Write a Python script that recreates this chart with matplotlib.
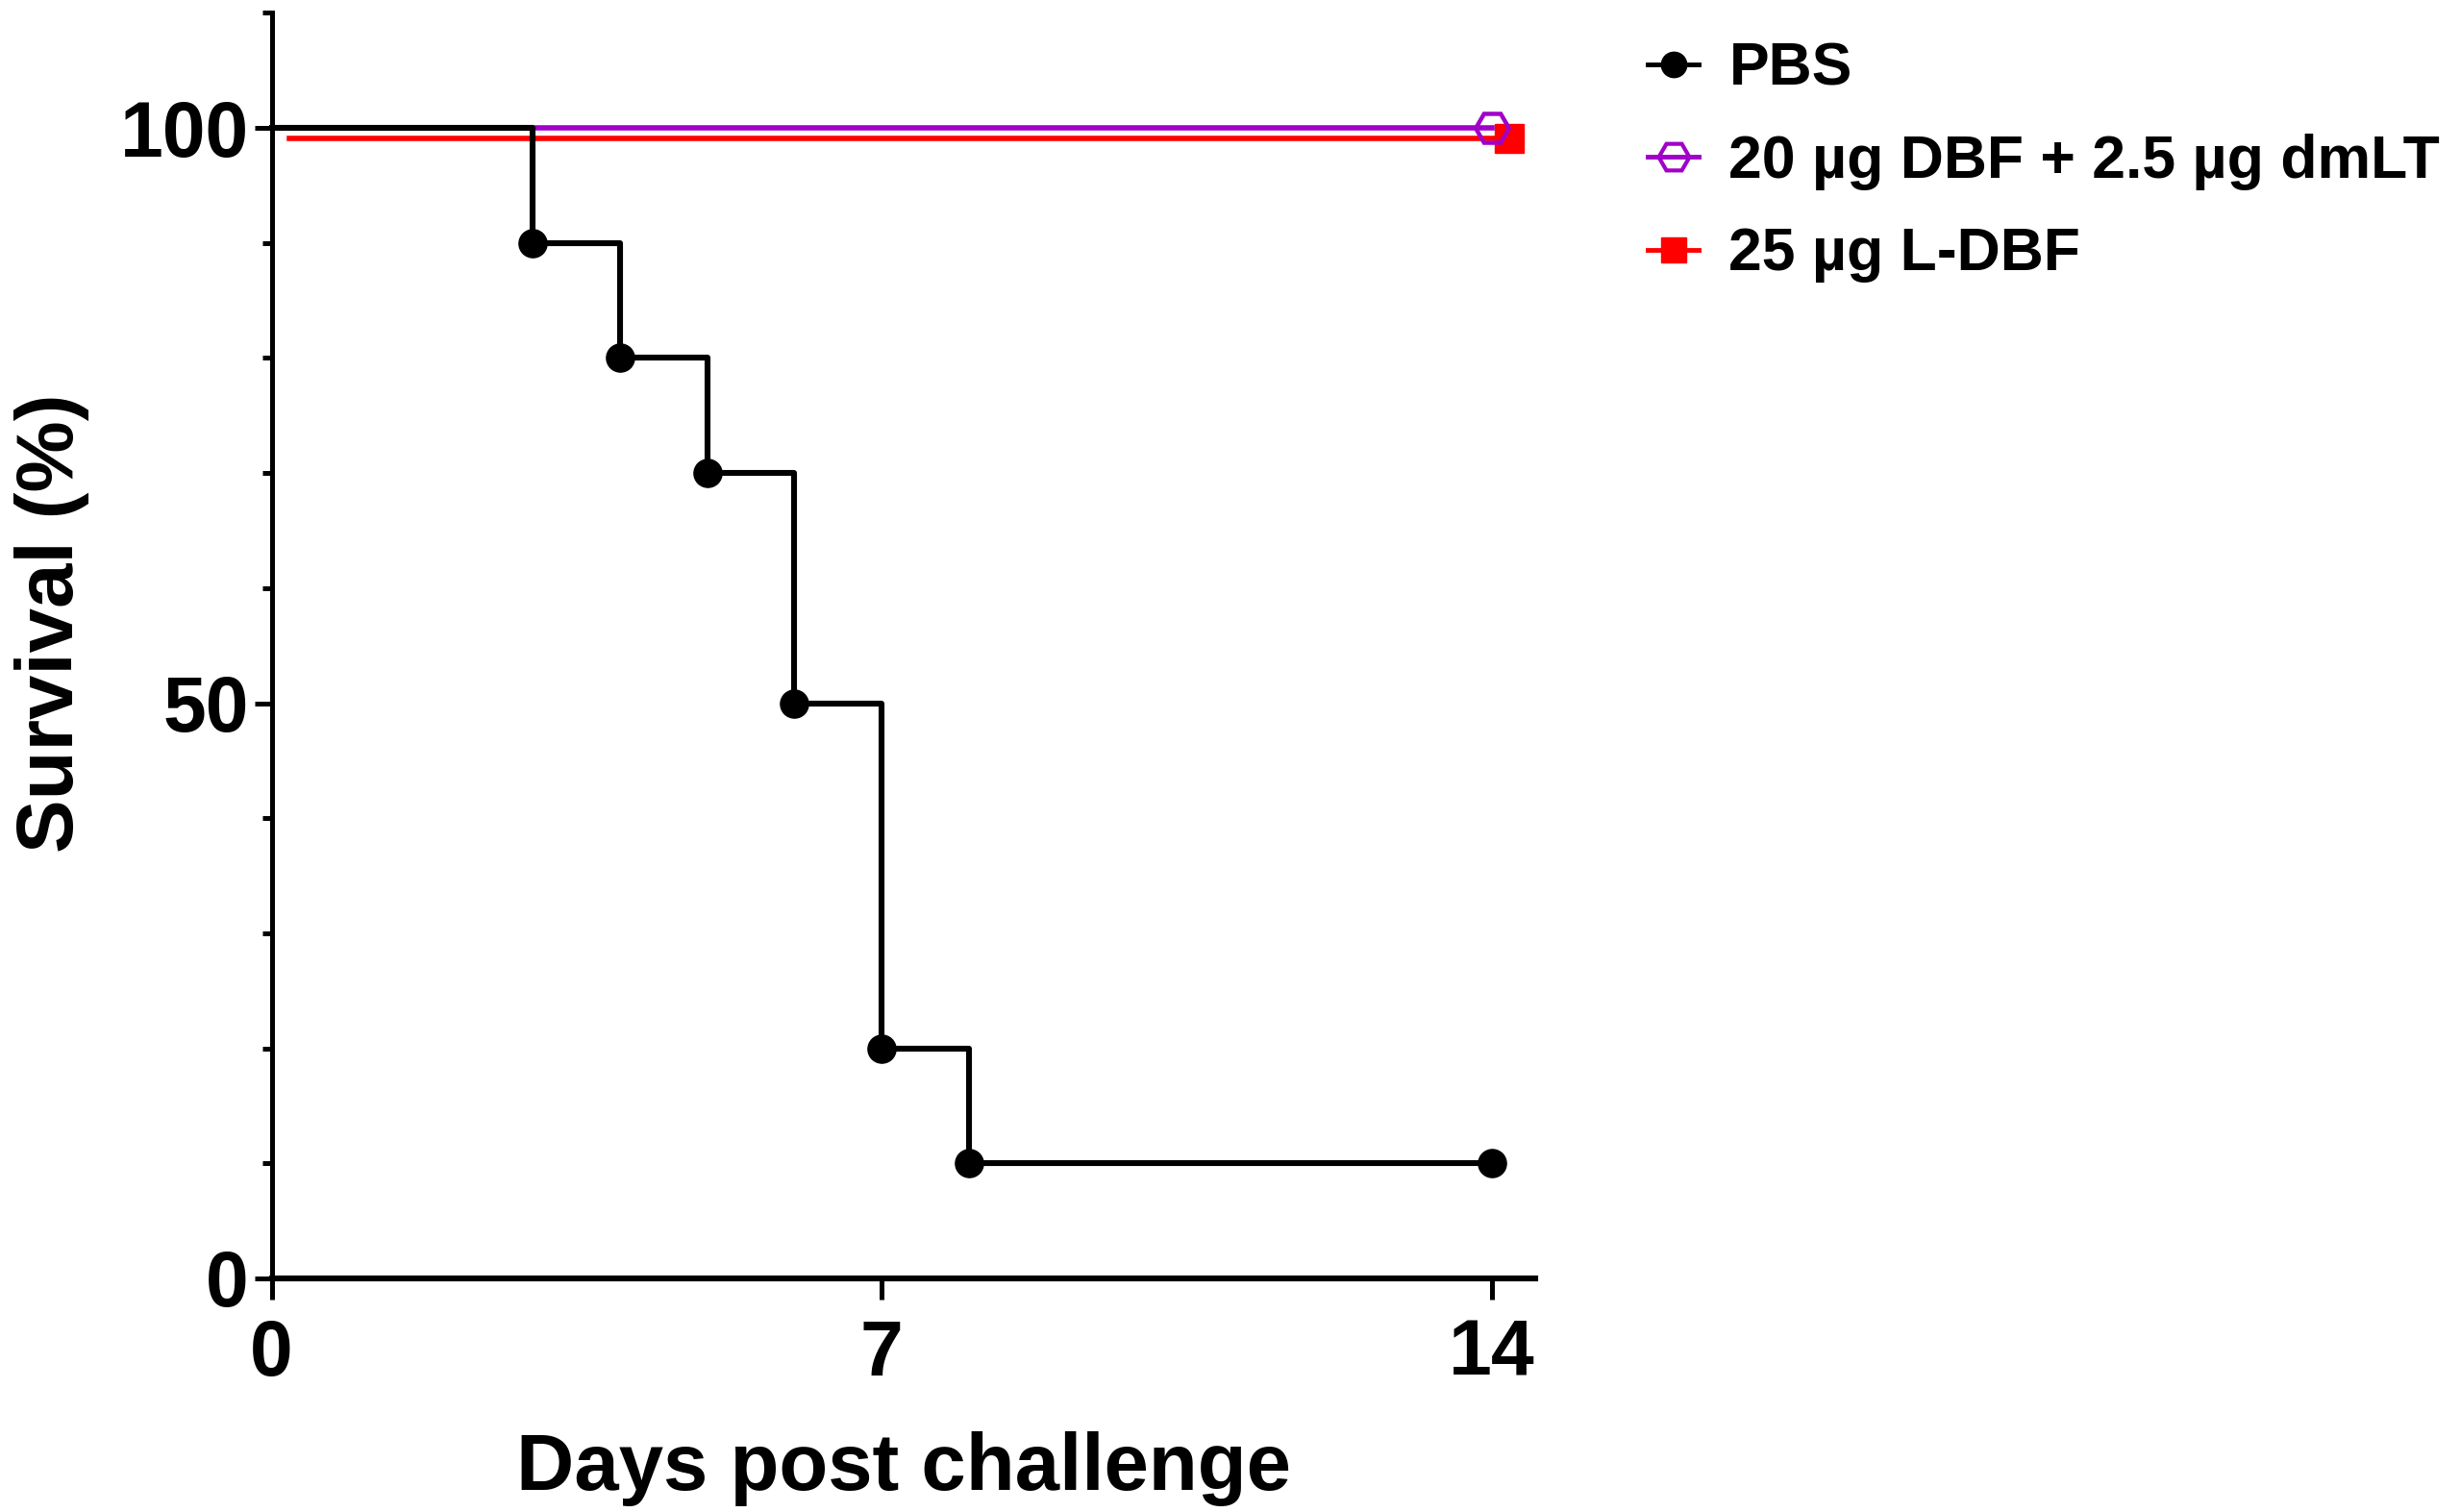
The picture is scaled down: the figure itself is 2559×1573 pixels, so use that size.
# Kaplan-Meier style survival plot after challenge

import matplotlib
matplotlib.use('Agg')
import matplotlib.pyplot as plt
import matplotlib.transforms as mtransforms
from matplotlib.ticker import MultipleLocator

plt.rcParams['font.family'] = ['Liberation Sans', 'DejaVu Sans']
plt.rcParams['font.weight'] = 'bold'

# Data
pbs_days = [0, 3, 4, 5, 6, 7, 8, 14]
pbs_survival = [100, 90, 80, 70, 50, 20, 10, 10]
pbs_marker_days = [3, 4, 5, 6, 7, 8, 14]
pbs_marker_survival = [90, 80, 70, 50, 20, 10, 10]

dmlt_days = [0, 14]
dmlt_survival = [100, 100]

ldbf_days = [0, 14]
ldbf_survival = [100, 100]

labels = ['PBS', '20 \u00b5g DBF + 2.5 \u00b5g dmLT', '25 \u00b5g L-DBF']
purple = '#A000C8'
red = '#FF0000'

fig = plt.figure(figsize=(25.59, 15.73), dpi=100)
ax = fig.add_axes([0.1104, 0.1545, 0.5137, 0.837])

# red group is drawn slightly offset (like GraphPad does)
red_trans = mtransforms.offset_copy(ax.transData, fig=fig,
                                    x=13, y=-8, units='points')

ax.plot(ldbf_days, ldbf_survival, color=red, linewidth=4,
        transform=red_trans, zorder=2, clip_on=False)
ax.plot(ldbf_days[-1:], ldbf_survival[-1:], linestyle='none',
        marker='s', markersize=21, color=red,
        transform=red_trans, zorder=2, clip_on=False)

ax.step(dmlt_days, dmlt_survival, where='post', color=purple,
        linewidth=4, zorder=3, clip_on=False)
ax.plot(dmlt_days[-1:], dmlt_survival[-1:], linestyle='none',
        marker='H', markersize=25, markerfacecolor='none',
        markeredgecolor=purple, markeredgewidth=3.2,
        zorder=4, clip_on=False)

ax.step(pbs_days, pbs_survival, where='post', color='black',
        linewidth=4.4, zorder=5, clip_on=False)
ax.plot(pbs_marker_days, pbs_marker_survival, linestyle='none',
        marker='o', markersize=21, color='black', zorder=6,
        clip_on=False)

ax.set_xlim(0, 14.5)
ax.set_ylim(0, 110)
ax.set_xticks([0, 7, 14])
ax.set_yticks([0, 50, 100])
ax.yaxis.set_minor_locator(MultipleLocator(10))

for side in ['top', 'right']:
    ax.spines[side].set_visible(False)
ax.spines['left'].set_linewidth(3.6)
ax.spines['bottom'].set_linewidth(4.4)

ax.tick_params(axis='y', which='major', length=13, width=3.6,
               labelsize=58, pad=4)
ax.tick_params(axis='y', which='minor', length=7, width=3.6)
ax.tick_params(axis='x', which='major', length=16, width=3.6,
               labelsize=58, pad=14)

ax.set_xlabel('Days post challenge', fontsize=60, fontweight='bold',
              labelpad=30)
ax.set_ylabel('Survival (%)', fontsize=60, fontweight='bold')
ax.yaxis.set_label_coords(-0.1445, 0.518)

# legend with proxy handles
h_pbs, = ax.plot([], [], color='black', linewidth=3.5, marker='o',
                 markersize=19)
h_dmlt, = ax.plot([], [], color=purple, linewidth=3.5, marker='H',
                  markersize=23, markerfacecolor='none',
                  markeredgecolor=purple, markeredgewidth=3)
h_ldbf, = ax.plot([], [], color=red, linewidth=3.5, marker='s',
                  markersize=19)
fig.legend([h_pbs, h_dmlt, h_ldbf], labels, loc='upper left',
           bbox_to_anchor=(0.6698, 0.973), frameon=False,
           handlelength=0.85, handletextpad=0.5,
           labelspacing=0.6, borderpad=0, borderaxespad=0,
           prop={'weight': 'bold', 'size': 45})

fig.savefig('out.png', dpi=100)
